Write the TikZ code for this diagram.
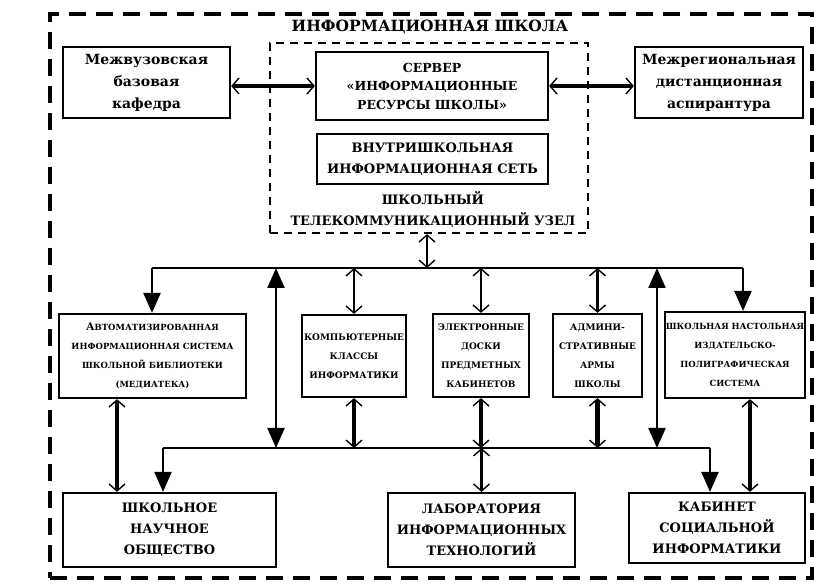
\documentclass[tikz,border=0pt]{standalone}
\usepackage{fontspec}
\setmainfont{DejaVu Serif}
\usetikzlibrary{arrows.meta}

\begin{document}
\begin{tikzpicture}[x=1pt,y=-1pt,
  box/.style={draw=black,line width=2.2pt,align=center,inner sep=1pt},
  frame/.style={draw=black,line width=3.2pt,dash pattern=on 17pt off 10pt},
  inframe/.style={draw=black,line width=2.2pt,dash pattern=on 8pt off 6pt},
  big/.style={font=\bfseries\fontsize{14}{22}\selectfont},
  mid/.style={font=\bfseries\fontsize{12.5}{18.5}\selectfont},
  sm/.style={font=\bfseries\fontsize{8.5}{19}\selectfont},
  smm/.style={font=\bfseries\fontsize{9}{19}\selectfont},
  low/.style={font=\bfseries\fontsize{13}{21}\selectfont},
  bus/.style={draw=black,line width=2.2pt},
  barb/.style={{Straight Barb[length=7pt,width=16pt,line width=1.4pt]}-{Straight Barb[length=7pt,width=16pt,line width=1.4pt]}},
  dbl/.style={barb,line width=4.5pt},
  dblthin/.style={barb,line width=2.8pt},
  tri/.style={line width=2.2pt,-{Triangle[length=20pt,width=17pt]}},
  tritwo/.style={line width=2.2pt,{Triangle[length=20pt,width=17pt]}-{Triangle[length=20pt,width=17pt]}}]
\useasboundingbox (0,0) rectangle (839,585);

% outer frame and title
\node[frame,minimum width=762pt,minimum height=564pt] (school) at (431,296) {};
\node[font=\bfseries\fontsize{15.5}{18}\selectfont] (title) at (430,27) {ИНФОРМАЦИОННАЯ ШКОЛА};

% telecom node
\node[inframe,minimum width=318pt,minimum height=190pt] (uzel) at (429,138) {};
\node[low,align=center] (uzeltxt) at (433,210) {ШКОЛЬНЫЙ\\ТЕЛЕКОММУНИКАЦИОННЫЙ УЗЕЛ};
\node[box,mid,minimum width=232pt,minimum height=68pt] (srv) at (432,86) {СЕРВЕР\\«ИНФОРМАЦИОННЫЕ\\РЕСУРСЫ ШКОЛЫ»};
\node[box,low,minimum width=231pt,minimum height=50pt] (vnet) at (432.5,159) {ВНУТРИШКОЛЬНАЯ\\ИНФОРМАЦИОННАЯ СЕТЬ};

% outside partners
\node[box,big,minimum width=167pt,minimum height=71pt] (mvb) at (146.5,82.5) {Межвузовская\\базовая\\кафедра};
\node[box,big,minimum width=168pt,minimum height=71pt] (mreg) at (719,82.5) {Межрегиональная\\дистанционная\\аспирантура};
\draw[dbl] (mvb.east |- srv.west) -- (srv.west);
\draw[dbl] (srv.east) -- (srv.east -| mreg.west);

% middle row
\node[box,sm,minimum width=187pt,minimum height=84pt] (avt) at (152.5,356) {{\fontsize{10.5}{19}\selectfont А}ВТОМАТИЗИРОВАННАЯ\\ИНФОРМАЦИОННАЯ СИСТЕМА\\ШКОЛЬНОЙ БИБЛИОТЕКИ\\(МЕДИАТЕКА)};
\node[box,smm,minimum width=104pt,minimum height=82pt] (komp) at (354,356) {КОМПЬЮТЕРНЫЕ\\КЛАССЫ\\ИНФОРМАТИКИ};
\node[box,smm,minimum width=96pt,minimum height=83pt] (edos) at (481,355.5) {ЭЛЕКТРОННЫЕ\\ДОСКИ\\ПРЕДМЕТНЫХ\\КАБИНЕТОВ};
\node[box,smm,minimum width=89pt,minimum height=83pt] (adm) at (597.5,355.5) {АДМИНИ-\\СТРАТИВНЫЕ\\АРМЫ\\ШКОЛЫ};
\node[box,sm,minimum width=136pt,minimum height=86pt] (nast) at (735,355) {ШКОЛЬНАЯ НАСТОЛЬНАЯ\\ИЗДАТЕЛЬСКО-\\ПОЛИГРАФИЧЕСКАЯ\\СИСТЕМА};

% bottom row
\node[box,low,minimum width=213pt,minimum height=74pt] (sno) at (169.5,530) {ШКОЛЬНОЕ\\НАУЧНОЕ\\ОБЩЕСТВО};
\node[box,low,minimum width=187pt,minimum height=74pt] (lab) at (481.5,530) {ЛАБОРАТОРИЯ\\ИНФОРМАЦИОННЫХ\\ТЕХНОЛОГИЙ};
\node[box,low,minimum width=176pt,minimum height=70pt] (kab) at (717,528) {КАБИНЕТ\\СОЦИАЛЬНОЙ\\ИНФОРМАТИКИ};

% buses
\coordinate (tbl) at (152,268);
\coordinate (tbr) at (743,268);
\coordinate (bbl) at (163,448);
\coordinate (bbr) at (710,448);
\coordinate (lt) at (276,268);
\coordinate (lb) at (276,448);
\coordinate (rt) at (657,268);
\coordinate (rb) at (657,448);
\draw[bus] (tbl) -- (tbr);
\draw[bus] (bbl) -- (bbr);
\draw[dblthin] ([xshift=-2pt]uzel.south) -- ([xshift=-2pt]uzel.south |- tbl);

\draw[tri] (tbl) -- (tbl |- avt.north);
\draw[tri] (tbr) -- (tbr |- nast.north);
\draw[tri] (bbl) -- (bbl |- sno.north);
\draw[tri] (bbr) -- (bbr |- kab.north);
\draw[tritwo] (lt) -- (lb);
\draw[tritwo] (rt) -- (rb);

\draw[dblthin] (komp.north) -- (komp.north |- tbl);
\draw[dblthin] (edos.north) -- (edos.north |- tbl);
\draw[dblthin] (adm.north) -- (adm.north |- tbl);
\draw[dbl] (komp.south) -- (komp.south |- bbl);
\draw[dbl] (edos.south) -- (edos.south |- bbl);
\draw[dbl] (adm.south) -- (adm.south |- bbl);
\draw[dblthin] (lab.north) -- (lab.north |- bbl);

\draw[dbl] ([xshift=-35.5pt]avt.south) -- ([xshift=-35.5pt]avt.south |- sno.north);
\draw[dbl] ([xshift=15pt]nast.south) -- ([xshift=15pt]nast.south |- kab.north);

\end{tikzpicture}
\end{document}
